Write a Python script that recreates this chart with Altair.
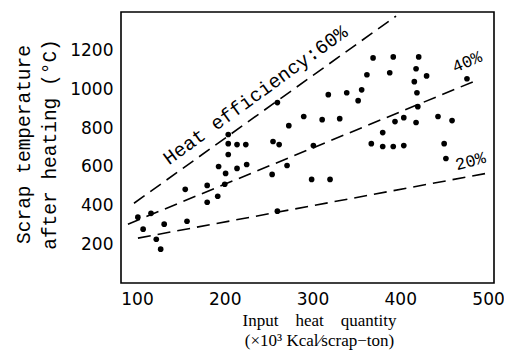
import altair as alt
import pandas as pd

# Scatter data: input heat quantity (x10^3 kcal/scrap-ton) vs scrap temperature (deg C)
input_heat = [101, 107, 116, 122, 127, 131, 155, 157, 180, 180, 192, 193, 200, 201,
              204, 204, 204, 214, 224, 214, 225, 254, 255, 262, 260, 260, 271, 273,
              290, 299, 301, 311, 320, 318, 331, 339, 352, 356, 362, 369, 367, 380,
              380, 388, 392, 392, 394, 404, 404, 416, 418, 419, 420, 418, 421, 430,
              443, 450, 452, 459, 476]
scrap_temp = [340, 278, 360, 226, 175, 304, 484, 319, 504, 417, 448, 602, 510, 566,
              664, 720, 767, 715, 715, 592, 612, 561, 731, 715, 371, 932, 607, 813,
              860, 535, 710, 844, 535, 973, 849, 983, 942, 998, 1076, 1163, 720, 777,
              705, 1086, 1168, 705, 834, 710, 854, 1040, 1107, 983, 911, 829, 1168, 1070,
              860, 720, 643, 839, 1055]

# Heat-efficiency reference lines (end points)
line_series = ["60%", "60%", "40%", "40%", "20%", "20%"]
line_x = [96.6, 395.2, 89.7, 488.6, 101.1, 497.7]
line_y = [412, 1379, 304, 1050, 232, 566]

# Annotations
label_text = ["Heat efficiency:60%", "40%", "20%"]
label_x = [136.5, 462.4, 464.7]
label_y = [607, 1086, 582]
label_angle = [324, 337, 345]
label_size = [19.5, 17, 17]

x_ticks = [100, 200, 300, 400, 500]
y_ticks = [200, 400, 600, 800, 1000, 1200]

pts = pd.DataFrame({"heat": input_heat, "temp": scrap_temp})
lines = pd.DataFrame({"heat": line_x, "temp": line_y, "eff": line_series})

xs = alt.Scale(domain=[81.8, 506.8], nice=False, zero=False)
ys = alt.Scale(domain=[0, 1400], nice=False, zero=False)

x_axis = alt.Axis(
    values=x_ticks, format="d", grid=False, ticks=False, domain=False,
    labelFont="DejaVu Sans", labelFontSize=17, labelPadding=8, labelColor="black",
    title=["Input\u2003heat\u2003quantity", "(\u00d710\u00b3 Kcal\u2044scrap\u2212ton)"],
    titleFont="Liberation Serif", titleFontSize=17, titleFontWeight="normal",
    titleColor="black", titleX=198, titleY=42, titleAlign="center",
    titleBaseline="alphabetic", titleLineHeight=20,
)
y_axis = alt.Axis(
    values=y_ticks, format="d", grid=False, ticks=False, domain=False,
    labelFont="DejaVu Sans", labelFontSize=17, labelPadding=8, labelColor="black",
    title=["Scrap temperature", "after heating (\u00b0C)"],
    titleFont="Liberation Mono", titleFontSize=19.5, titleFontWeight="normal",
    titleColor="black", titleAngle=270, titleX=-92, titleY=132, titleAlign="center",
    titleBaseline="alphabetic", titleLineHeight=26,
)

points = alt.Chart(pts).mark_circle(size=32, color="black", opacity=1).encode(
    x=alt.X("heat:Q", scale=xs, axis=x_axis),
    y=alt.Y("temp:Q", scale=ys, axis=y_axis),
)

eff_lines = alt.Chart(lines).mark_line(
    color="black", strokeWidth=1.6, strokeDash=[13, 7]
).encode(
    x=alt.X("heat:Q", scale=xs),
    y=alt.Y("temp:Q", scale=ys),
    detail="eff:N",
)

layers = [eff_lines, points]
for t, lx, ly, ang, sz in zip(label_text, label_x, label_y, label_angle, label_size):
    df = pd.DataFrame({"heat": [lx], "temp": [ly], "txt": [t]})
    layers.append(
        alt.Chart(df).mark_text(
            font="Liberation Mono", fontSize=sz, angle=ang, align="left",
            baseline="alphabetic", color="black",
        ).encode(
            x=alt.X("heat:Q", scale=xs),
            y=alt.Y("temp:Q", scale=ys),
            text="txt:N",
        )
    )

chart = alt.layer(*layers).properties(
    width=373, height=271,
    padding={"left": 113, "top": 4, "right": 10, "bottom": 68},
    autosize=alt.AutoSizeParams(type="none"),
    background="white",
).configure_view(stroke="black", strokeWidth=1.6)

chart.save("out.html", embed_options={"renderer": "svg", "actions": False})
